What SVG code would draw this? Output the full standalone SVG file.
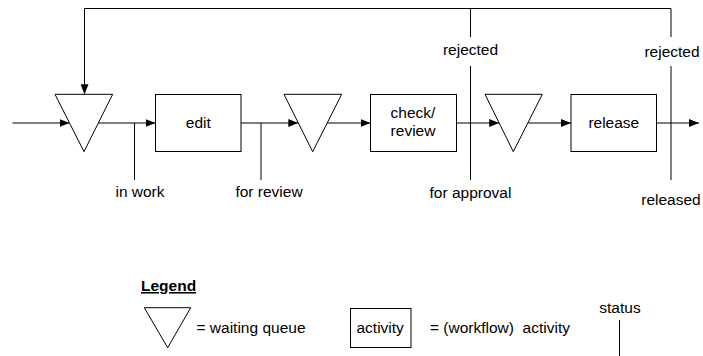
<svg xmlns="http://www.w3.org/2000/svg" width="703" height="356" viewBox="0 0 703 356">
  <style>
    .shape { fill: #ffffff; stroke: #000000; stroke-width: 1; }
    .line { fill: none; stroke: #000000; stroke-width: 1; }
    .flow { fill: none; stroke: #000000; stroke-width: 1; marker-end: url(#arrow); }
    text { font-family: "Liberation Sans", Arial, sans-serif; font-size: 15.5px; fill: #000000; }
    .mid { text-anchor: middle; }
    .title { font-weight: bold; text-decoration: underline; }
  </style>
  <defs>
    <marker id="arrow" viewBox="0 0 10 8" refX="10" refY="4" markerWidth="10" markerHeight="8" markerUnits="userSpaceOnUse" orient="auto">
      <path d="M0,0 L10,4 L0,8 Z" fill="#000000"/>
    </marker>
  </defs>

  <!-- connectors -->
  <g id="connectors">
    <!-- main flow -->
    <line class="flow" x1="12.5" y1="123" x2="69.5" y2="123"/>
    <line class="flow" x1="98.3" y1="123" x2="155.5" y2="123"/>
    <line class="flow" x1="241" y1="123" x2="298.3" y2="123"/>
    <line class="flow" x1="327.2" y1="123" x2="370.5" y2="123"/>
    <line class="flow" x1="456.5" y1="123" x2="499.2" y2="123"/>
    <line class="flow" x1="527.8" y1="123" x2="571" y2="123"/>
    <line class="flow" x1="656.5" y1="123" x2="699" y2="123"/>
    <!-- rejection loop back to the first queue -->
    <path class="flow" d="M671 37 V8.5 H84.5 V94.3"/>
    <line class="line" x1="470.5" y1="8.5" x2="470.5" y2="37"/>
    <!-- status markers -->
    <line class="line" x1="134.5" y1="123" x2="134.5" y2="180"/>
    <line class="line" x1="261" y1="123" x2="261" y2="180"/>
    <line class="line" x1="470.5" y1="66" x2="470.5" y2="180"/>
    <line class="line" x1="671" y1="66" x2="671" y2="180"/>
  </g>

  <!-- status labels -->
  <g id="status-labels">
    <text class="mid" x="140" y="197">in work</text>
    <text class="mid" x="269" y="197">for review</text>
    <text class="mid" x="470.5" y="55">rejected</text>
    <text class="mid" x="470.5" y="198">for approval</text>
    <text class="mid" x="672" y="57">rejected</text>
    <text class="mid" x="671" y="205">released</text>
  </g>

  <!-- nodes -->
  <g id="queue-1">
    <polygon class="shape" points="55,94.3 112.7,94.3 84,151.7"/>
  </g>
  <g id="edit">
    <rect class="shape" x="155.5" y="94.5" width="85.5" height="57"/>
    <text class="mid" x="198.3" y="128">edit</text>
  </g>
  <g id="queue-2">
    <polygon class="shape" points="284,94.3 341.7,94.3 312.7,151.7"/>
  </g>
  <g id="check-review">
    <rect class="shape" x="370.5" y="94.5" width="86" height="57"/>
    <text class="mid" x="413" y="117.5">check/</text>
    <text class="mid" x="413" y="136">review</text>
  </g>
  <g id="queue-3">
    <polygon class="shape" points="485,94.3 542.3,94.3 513.3,151.7"/>
  </g>
  <g id="release">
    <rect class="shape" x="571" y="94.5" width="85.5" height="57"/>
    <text class="mid" x="613.8" y="128">release</text>
  </g>

  <!-- legend -->
  <g id="legend">
    <text class="title" x="141" y="291">Legend</text>
    <polygon class="shape" points="144.3,307.7 190.7,307.7 167.7,347.7"/>
    <text x="196.5" y="333">= waiting queue</text>
    <rect class="shape" x="350.5" y="308.5" width="60.5" height="39"/>
    <text x="356.5" y="333">activity</text>
    <text x="430" y="333" xml:space="preserve">= (workflow)  activity</text>
    <text class="mid" x="620" y="312.5">status</text>
    <line class="line" x1="619.5" y1="320" x2="619.5" y2="356"/>
  </g>
</svg>
